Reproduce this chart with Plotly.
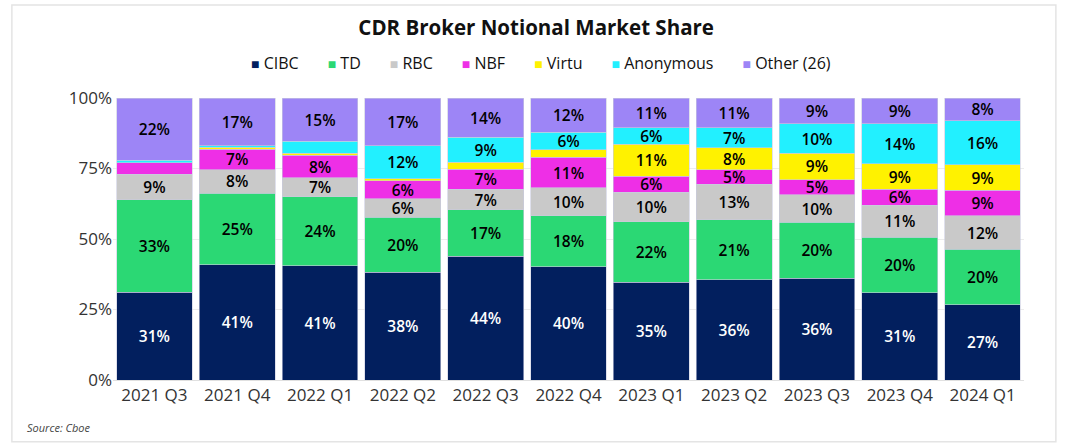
import plotly.graph_objects as go

quarters = ["2021 Q3", "2021 Q4", "2022 Q1", "2022 Q2", "2022 Q3", "2022 Q4",
            "2023 Q1", "2023 Q2", "2023 Q3", "2023 Q4", "2024 Q1"]

# notional market share, %
cibc = [31.1, 40.9, 40.6, 38.2, 43.8, 40.2, 34.6, 35.6, 36.0, 30.9, 26.6]
td = [32.8, 25.3, 24.3, 19.6, 16.6, 18.0, 21.6, 21.2, 19.9, 19.8, 19.7]
rbc = [9.0, 8.4, 6.8, 6.4, 7.2, 9.9, 10.4, 12.6, 9.8, 11.2, 11.9]
nbf = [4.1, 7.3, 8.0, 6.4, 7.1, 10.9, 5.7, 5.2, 5.4, 5.8, 9.1]
virtu = [0.0, 0.6, 0.7, 0.8, 2.5, 2.6, 11.3, 7.8, 9.3, 8.9, 9.0]
anonymous = [1.0, 0.5, 4.2, 11.6, 8.9, 6.3, 5.8, 7.0, 10.4, 14.3, 15.6]
other = [22.0, 17.0, 15.4, 17.0, 13.9, 12.1, 10.6, 10.6, 9.2, 9.1, 8.1]

y_ticks = [0, 25, 50, 75, 100]
y_ticklabels = ["0%", "25%", "50%", "75%", "100%"]

series = [
    ("CIBC", cibc, "#021f5e", "white"),
    ("TD", td, "#2bd874", "black"),
    ("RBC", rbc, "#c9c9c9", "black"),
    ("NBF", nbf, "#ee2fe6", "black"),
    ("Virtu", virtu, "#fff200", "black"),
    ("Anonymous", anonymous, "#22f0ff", "black"),
    ("Other (26)", other, "#9d85f6", "black"),
]

FONT = "Open Sans"

fig = go.Figure()
for name, vals, color, txtcolor in series:
    # only label segments big enough to hold text
    labels = [f"{v:.0f}%" if v >= 4.5 else "" for v in vals]
    fig.add_trace(go.Bar(
        x=quarters, y=vals, name=name, showlegend=False,
        marker=dict(color=color, line=dict(color="#c9cbe0", width=0.6)),
        text=labels, textposition="inside", insidetextanchor="middle",
        textangle=0,
        textfont=dict(family=FONT, size=15.5, color=txtcolor, weight=600),
        hovertemplate="%{x}: %{y:.1f}%<extra>" + name + "</extra>",
    ))

# compact legend drawn as one line of text, like the original
legend_txt = "&nbsp;" * 7
legend_txt = legend_txt.join(
    f"<span style='color:{c}; font-size:14px'>■</span> {n}" for n, _, c, _ in series
)
fig.add_annotation(text=legend_txt, xref="paper", yref="paper",
                   x=0.47, y=1.124, xanchor="center", yanchor="middle",
                   showarrow=False, font=dict(family=FONT, size=16, color="#111"))

# card border around the chart
fig.add_shape(type="rect", xref="paper", yref="paper",
              x0=-0.111, x1=1.035, y0=-0.219, y1=1.33,
              line=dict(color="#e4e4e4", width=1.5), fillcolor="rgba(0,0,0,0)",
              layer="below")

fig.add_annotation(text="<i>Source: Cboe</i>", xref="paper", yref="paper",
                   x=-0.097, y=-0.17, xanchor="left", yanchor="middle",
                   showarrow=False, font=dict(family=FONT, size=11, color="#444"))

fig.update_layout(
    barmode="stack",
    bargap=0.085,
    width=1068, height=445,
    margin=dict(l=113, r=44, t=98, b=65),
    paper_bgcolor="white", plot_bgcolor="white",
    font=dict(family=FONT, color="#333"),
    title=dict(text="<b>CDR Broker Notional Market Share</b>",
               x=0.502, xanchor="center", y=0.937, yanchor="middle",
               font=dict(family=FONT, size=20.5, color="#111")),
    uniformtext=dict(minsize=15.5, mode="show"),
    yaxis=dict(range=[0, 100], tickvals=y_ticks, ticktext=y_ticklabels,
               showgrid=True, gridcolor="#ececec", zeroline=False,
               tickfont=dict(family=FONT, size=17, color="#333"), ticks=""),
    xaxis=dict(tickfont=dict(family=FONT, size=17, color="#333"),
               showline=True, linecolor="#e0e0e0", linewidth=1),
)

# drop the default page margin so the 1068x445 figure sits flush in the window
fig.write_html("out.html", config={"displayModeBar": False},
               post_script="document.body.style.margin='0';")
